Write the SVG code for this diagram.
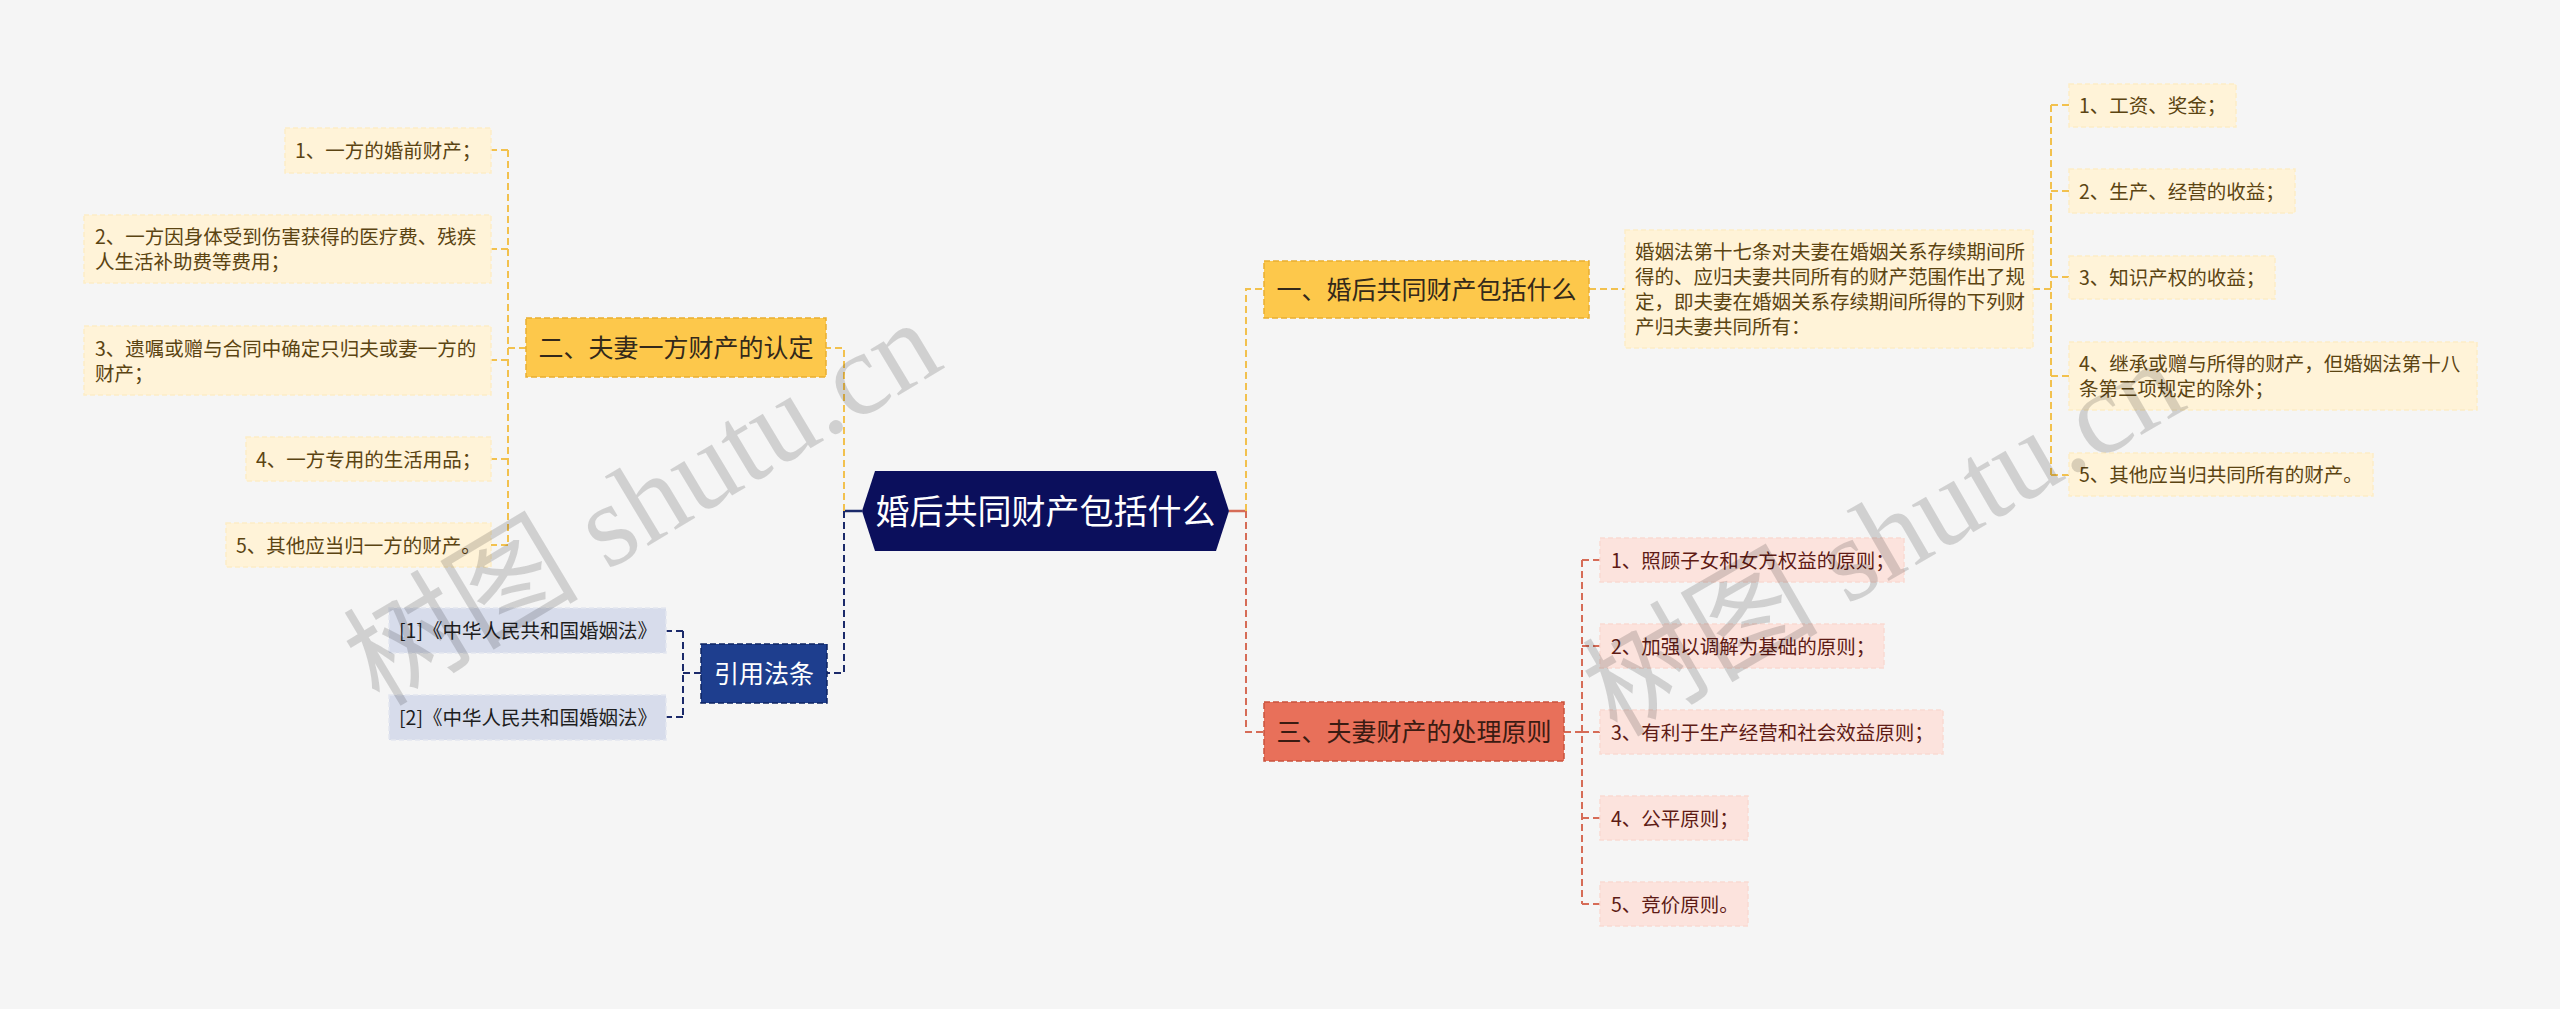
<svg xmlns="http://www.w3.org/2000/svg" width="2560" height="1009" viewBox="0 0 2560 1009">
<style>
text{font-family:"Noto Sans CJK SC","Noto Sans",sans-serif;}
.leafY{fill:#FFF3D8;stroke:#FDEDC6;stroke-width:1.5;stroke-dasharray:5 3;}
.leafP{fill:#FCE3DD;stroke:#F9DAD2;stroke-width:1.5;stroke-dasharray:5 3;}
.leafB{fill:#D7DCEB;stroke:#E3E6F0;stroke-width:1.5;stroke-dasharray:5 3;}
.tY{font-size:19.5px;fill:#5B4412;}
.tP{font-size:19.5px;fill:#5E1B15;}
.tB{font-size:19.5px;fill:#1E1E1E;}
.mainY{fill:#FDC84B;stroke:#E9AE30;stroke-width:1.5;stroke-dasharray:6 3;}
.mainR{fill:#E8705A;stroke:#C9523D;stroke-width:1.5;stroke-dasharray:6 3;}
.mainB{fill:#1E3E8E;stroke:#0E2563;stroke-width:1.5;stroke-dasharray:6 3;}
.tMain{font-size:25px;fill:#33291A;}
.tMainR{font-size:25px;fill:#3A1B12;}
.tMainW{font-size:25px;fill:#FFFFFF;}
.cY{fill:none;stroke:#F2C14E;stroke-width:2;stroke-dasharray:7 4;}
.cR{fill:none;stroke:#D66C57;stroke-width:2;stroke-dasharray:7 4;}
.cB{fill:none;stroke:#1B2A6A;stroke-width:2;stroke-dasharray:7 4;}
.wm{font-family:"Liberation Serif","Noto Sans CJK SC",serif;font-size:118px;fill:#000;fill-opacity:0.15;}
</style>
<rect x="0" y="0" width="2560" height="1009" fill="#F5F5F5"/>

<g id="connectors">
  <path d="M862 511 H844" fill="none" stroke="#1B2A6A" stroke-width="2.5"/>
  <path d="M1229 511 H1246" fill="none" stroke="#D66C57" stroke-width="2.5"/>
  <path class="cY" d="M844 511 V348 H826"/>
  <path class="cB" d="M844 511 V673 H827"/>
  <path class="cY" d="M1246 511 V289 H1264"/>
  <path class="cR" d="M1246 511 V732 H1264"/>
  <path class="cY" d="M526 348 H508"/>
  <path class="cY" d="M508 150 V545"/>
  <path class="cY" d="M508 150 H491 M508 249 H491 M508 360 H491 M508 459 H491 M508 545 H491"/>
  <path class="cB" d="M701 673 H683"/>
  <path class="cB" d="M683 631 V717"/>
  <path class="cB" d="M683 631 H666 M683 717 H666"/>
  <path class="cY" d="M1589 289 H1625"/>
  <path class="cY" d="M2033 289 H2051"/>
  <path class="cY" d="M2051 105 V475"/>
  <path class="cY" d="M2051 105 H2069 M2051 191 H2069 M2051 277 H2069 M2051 376 H2069 M2051 475 H2069"/>
  <path class="cR" d="M1564 732 H1582"/>
  <path class="cR" d="M1582 560 V904"/>
  <path class="cR" d="M1582 560 H1600 M1582 646 H1600 M1582 732 H1600 M1582 818 H1600 M1582 904 H1600"/>
</g>

<g id="root">
  <polygon points="862,511 875,471 1216,471 1229,511 1216,551 875,551" fill="#0B0F5C"/>
  <text x="1045.5" y="524" font-size="34" fill="#FFFFFF" text-anchor="middle">婚后共同财产包括什么</text>
</g>

<g id="n-er">
  <rect class="mainY" x="526" y="318" width="300" height="59"/>
  <text class="tMain" x="538.5" y="357">二、夫妻一方财产的认定</text>
</g>
<g id="n-yi">
  <rect class="mainY" x="1264" y="261" width="325" height="57"/>
  <text class="tMain" x="1276.5" y="299">一、婚后共同财产包括什么</text>
</g>
<g id="n-san">
  <rect class="mainR" x="1264" y="702" width="300" height="59"/>
  <text class="tMainR" x="1276.5" y="741">三、夫妻财产的处理原则</text>
</g>
<g id="n-ref">
  <rect class="mainB" x="701" y="644" width="126" height="59"/>
  <text class="tMainW" x="714" y="683">引用法条</text>
</g>

<g id="l-er-1">
  <rect class="leafY" x="285" y="128" width="206" height="45"/>
  <text class="tY" x="295" y="158">1、一方的婚前财产；</text>
</g>
<g id="l-er-2">
  <rect class="leafY" x="84" y="215" width="407" height="68"/>
  <text class="tY" x="95" y="244">2、一方因身体受到伤害获得的医疗费、残疾</text>
  <text class="tY" x="95" y="269">人生活补助费等费用；</text>
</g>
<g id="l-er-3">
  <rect class="leafY" x="84" y="326" width="407" height="69"/>
  <text class="tY" x="95" y="355.5">3、遗嘱或赠与合同中确定只归夫或妻一方的</text>
  <text class="tY" x="95" y="380.5">财产；</text>
</g>
<g id="l-er-4">
  <rect class="leafY" x="246" y="437" width="245" height="44"/>
  <text class="tY" x="256" y="466.5">4、一方专用的生活用品；</text>
</g>
<g id="l-er-5">
  <rect class="leafY" x="226" y="523" width="265" height="44"/>
  <text class="tY" x="236" y="552.5">5、其他应当归一方的财产。</text>
</g>

<g id="l-ref-1">
  <rect class="leafB" x="389" y="608" width="277" height="45"/>
  <text class="tB" x="399" y="638">[1]《中华人民共和国婚姻法》</text>
</g>
<g id="l-ref-2">
  <rect class="leafB" x="389" y="695" width="277" height="45"/>
  <text class="tB" x="399" y="725">[2]《中华人民共和国婚姻法》</text>
</g>

<g id="l-desc">
  <rect class="leafY" x="1625" y="230" width="408" height="118"/>
  <text class="tY" x="1635" y="259">婚姻法第十七条对夫妻在婚姻关系存续期间所</text>
  <text class="tY" x="1635" y="284">得的、应归夫妻共同所有的财产范围作出了规</text>
  <text class="tY" x="1635" y="309">定，即夫妻在婚姻关系存续期间所得的下列财</text>
  <text class="tY" x="1635" y="334">产归夫妻共同所有：</text>
</g>

<g id="l-yi-1">
  <rect class="leafY" x="2069" y="84" width="167" height="43"/>
  <text class="tY" x="2079" y="113">1、工资、奖金；</text>
</g>
<g id="l-yi-2">
  <rect class="leafY" x="2069" y="169" width="226" height="44"/>
  <text class="tY" x="2079" y="198.5">2、生产、经营的收益；</text>
</g>
<g id="l-yi-3">
  <rect class="leafY" x="2069" y="256" width="206" height="43"/>
  <text class="tY" x="2079" y="285">3、知识产权的收益；</text>
</g>
<g id="l-yi-4">
  <rect class="leafY" x="2069" y="342" width="408" height="68"/>
  <text class="tY" x="2079" y="371">4、继承或赠与所得的财产，但婚姻法第十八</text>
  <text class="tY" x="2079" y="396">条第三项规定的除外；</text>
</g>
<g id="l-yi-5">
  <rect class="leafY" x="2069" y="453" width="304" height="43"/>
  <text class="tY" x="2079" y="482">5、其他应当归共同所有的财产。</text>
</g>

<g id="l-san-1">
  <rect class="leafP" x="1600" y="538" width="304" height="44"/>
  <text class="tP" x="1611" y="567.5">1、照顾子女和女方权益的原则；</text>
</g>
<g id="l-san-2">
  <rect class="leafP" x="1600" y="624" width="284" height="44"/>
  <text class="tP" x="1611" y="653.5">2、加强以调解为基础的原则；</text>
</g>
<g id="l-san-3">
  <rect class="leafP" x="1600" y="710" width="343" height="44"/>
  <text class="tP" x="1611" y="739.5">3、有利于生产经营和社会效益原则；</text>
</g>
<g id="l-san-4">
  <rect class="leafP" x="1600" y="796" width="148" height="44"/>
  <text class="tP" x="1611" y="825.5">4、公平原则；</text>
</g>
<g id="l-san-5">
  <rect class="leafP" x="1600" y="882" width="148" height="44"/>
  <text class="tP" x="1611" y="911.5">5、竞价原则。</text>
</g>

<text class="wm" x="649" y="541" text-anchor="middle" transform="rotate(-31 649 514)">树图 shutu.cn</text>
<text class="wm" x="1890" y="576" text-anchor="middle" transform="rotate(-30 1890 549)">树图 shutu.cn</text>
</svg>
